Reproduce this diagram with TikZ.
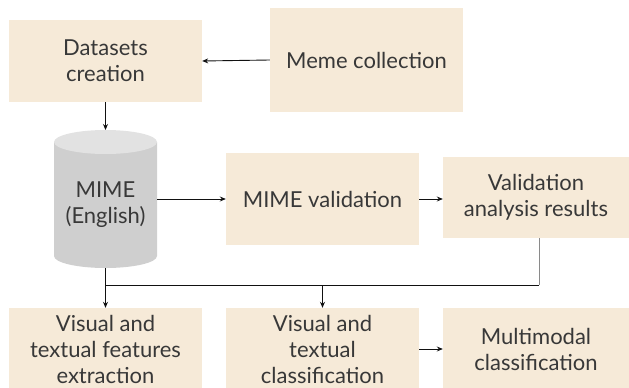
\documentclass[tikz,border=0pt]{standalone}
\usepackage{fontspec}
\setmainfont{Lato}
\usetikzlibrary{arrows.meta}
\definecolor{boxfill}{HTML}{F6EAD8}
\definecolor{txt}{HTML}{383838}
\definecolor{dbbody}{HTML}{CFCFCF}
\definecolor{dbtop}{HTML}{E2E2E2}
\definecolor{wire}{HTML}{111111}
\definecolor{wiregray}{HTML}{8A8A8A}
\begin{document}
\begin{tikzpicture}[x=1pt,y=-1pt,
  stage/.style={fill=boxfill, draw=none, inner sep=0pt, align=center,
    text=txt, font=\fontsize{22}{26}\selectfont},
  link/.style={draw=wire, line width=0.9pt, -{Stealth[length=6pt,width=5pt]}},
  plain/.style={draw=wire, line width=0.9pt}]
\useasboundingbox (0,0) rectangle (629,388);
\clip (0,0) rectangle (629,388);

% top row
\node[stage, minimum width=193pt, minimum height=82pt] (ds) at (105.5,61) {Datasets\\creation};
\node[stage, minimum width=193pt, minimum height=104pt] (mc) at (366.5,60) {Meme collection};

% database cylinder
\fill[dbbody] (54,142) -- (54,256) arc[start angle=180, end angle=360, x radius=51.5, y radius=-12] -- (157,142) -- cycle;
\fill[dbtop] (105.5,142) ellipse[x radius=51.5, y radius=12];
\node[inner sep=0pt, minimum width=103pt, minimum height=138pt, align=center, text=txt,
  font=\fontsize{22}{26}\selectfont] (db) at (105.5,205) {MIME\\(English)};

% middle row
\node[stage, minimum width=193pt, minimum height=92pt] (mv) at (322.5,199) {MIME validation};
\node[stage, minimum width=186pt, minimum height=81pt] (va) at (536,197.5) {Validation\\analysis results};

% bottom row
\node[stage, minimum width=193pt, minimum height=82pt] (fe) at (105.5,349) {Visual and\\textual features\\extraction};
\node[stage, minimum width=193pt, minimum height=82pt] (vc) at (322.5,349) {Visual and\\textual\\classification};
\node[stage, minimum width=186pt, minimum height=82pt] (mm) at (536,349) {Multimodal\\classification};

% junction points of the merge line
\coordinate (jl) at (105.5,285);
\coordinate (jm) at (322.5,285);
\coordinate (jr) at (539,285);

% connectors
\draw[link] (mc.west) -- (ds.east);
\draw[link] (ds.south) -- (105.5,130);
\draw[link] (157,199) -- (mv.west);
\draw[link] (mv.east) -- (va.west |- mv.east);
\draw[link] (105.5,268) -- (fe.north);
\draw[draw=wiregray, line width=0.9pt] (va.south -| jr) -- (jr);
\draw[plain] (jl) -- (jr);
\draw[link] (jm) -- (vc.north);
\draw[link] (vc.east) -- (mm.west);
\end{tikzpicture}
\end{document}
